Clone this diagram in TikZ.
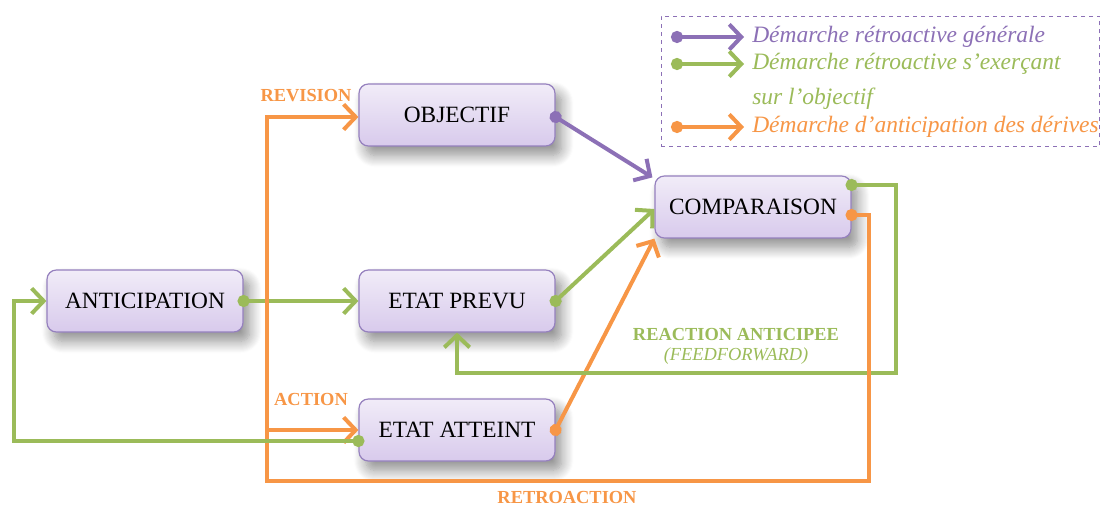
\documentclass[tikz,border=0pt]{standalone}
\usepackage{fontspec}
\setmainfont{Liberation Serif}
\usetikzlibrary{arrows.meta,shadows.blur}
\definecolor{cpurple}{HTML}{8C70B6}
\definecolor{cgreen}{HTML}{9BBB59}
\definecolor{corange}{HTML}{F79646}
\definecolor{boxline}{HTML}{9580BE}
\definecolor{boxtop}{HTML}{F1ECF8}
\definecolor{boxbot}{HTML}{D8CAEC}
\tikzset{
  box/.style={draw=boxline, line width=0.9pt, rounded corners=7pt,
    top color=boxtop, bottom color=boxbot,
    minimum width=147pt, minimum height=46.5pt, inner sep=0pt,
    font=\fontsize{17.5}{20}\selectfont,
    blur shadow={shadow xshift=5pt, shadow yshift=-7pt, shadow blur steps=12, shadow blur radius=9pt, shadow opacity=45}},
  link/.style={line width=3pt, line join=miter, shorten <=-4.5pt,
    {Circle[length=9pt,width=9pt]}-{Straight Barb[length=9pt,width=19pt,line width=3pt]}},
  plain/.style={line width=3pt, -{Straight Barb[length=9pt,width=19pt,line width=3pt]}},
  plink/.style={link, draw=cpurple},
  glink/.style={link, draw=cgreen},
  olink/.style={link, draw=corange},
  lab/.style={font=\fontsize{13.8}{16}\selectfont\bfseries, inner sep=0pt},
  legtext/.style={anchor=west, inner sep=0pt, font=\fontsize{17.6}{20}\selectfont\itshape}
}
\begin{document}
\begin{tikzpicture}[x=0.75pt, y=-0.75pt]
\useasboundingbox (0,0) rectangle (1104,506);

% process boxes
\node[box] (obj)  at (457,115) {OBJECTIF};
\node[box] (cmp)  at (753,207) {COMPARAISON};
\node[box] (ant)  at (145,301) {ANTICIPATION};
\node[box] (prev) at (457,301) {ETAT PREVU};
\node[box] (att)  at (457,430) {ETAT ATTEINT};

% route corners
\coordinate (gR1) at (896,185);
\coordinate (gR2) at (896,373);
\coordinate (oR1) at (869,215);
\coordinate (oR2) at (869,481);
\coordinate (oL)  at (267,481);
\coordinate (oAct) at (267,430);
\coordinate (gL1) at (14,441);
\coordinate (gL2) at (14,301);

% general feedback
\draw[plink] ([yshift=-1.5pt]obj.east) -- ([shift={(-2,2)}]cmp.north west);

% anticipation chain
\draw[glink] (ant.east) -- (prev.west);
\draw[glink] (prev.east) -- ([shift={(0,2)}]cmp.west);
\draw[olink] (att.east) -- (cmp.south west);

% feedforward loop
\draw[glink] ([shift={(0,-22)}]cmp.east) -- (gR1) -- (gR2) -| (prev.south);

% retroaction loop
\draw[olink] ([shift={(0,8)}]cmp.east) -- (oR1) -- (oR2) -- (oL) |- ([shift={(0,2)}]obj.west);
\draw[plain, draw=corange] (oAct) -- (att.west);

% loop back to anticipation
\draw[glink] ([shift={(0,11)}]att.west) -- (gL1) -- (gL2) -- (ant.west);

% labels
\node[lab, text=corange] (tRev) at (306,96) {REVISION};
\node[lab, text=corange] (tAct) at (311,399) {ACTION};
\node[lab, text=corange] (tRetro) at (567,497) {RETROACTION};
\node[lab, text=cgreen] (tReac) at (736,334) {REACTION ANTICIPEE};
\node[inner sep=0pt, text=cgreen, font=\fontsize{13.8}{16}\selectfont\itshape] (tFf) at (736,356) {(FEEDFORWARD)};

% legend
\node[draw=cpurple, dashed, line width=0.6pt, fill=white, inner sep=0pt,
      minimum width=329pt, minimum height=98pt] (leg) at (880.5,81.5) {};
\node[legtext, text=cpurple] (l1) at (752,37) {Démarche rétroactive générale};
\node[legtext, text=cgreen] (l2) at (752,64) {Démarche rétroactive s’exerçant};
\node[legtext, text=cgreen] (l2b) at (752,99) {sur l’objectif};
\node[legtext, text=corange] (l3) at (752,127) {Démarche d’anticipation des dérives};
\coordinate (k1) at (677,37);
\coordinate (k2) at (677,64);
\coordinate (k3) at (677,127);
\draw[plink] (k1) -- ([xshift=-6pt]l1.west);
\draw[glink] (k2) -- ([xshift=-6pt]l2.west);
\draw[olink] (k3) -- ([xshift=-6pt]l3.west);
\end{tikzpicture}
\end{document}
